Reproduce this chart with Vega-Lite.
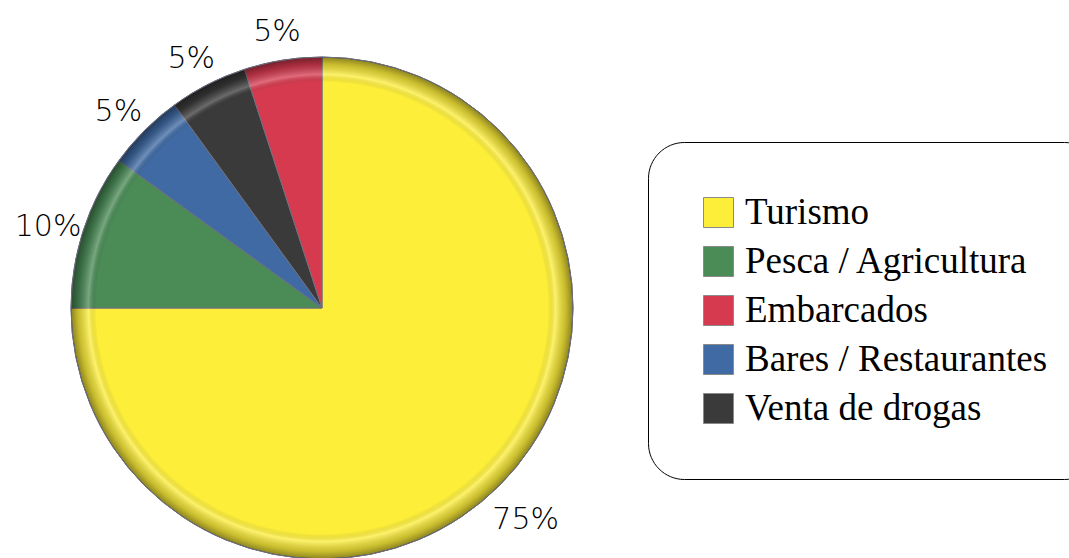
{
  "$schema": "https://vega.github.io/schema/vega-lite/v6.json",
  "width": 644,
  "height": 616,
  "autosize": {"type": "none"},
  "padding": {"left": 0, "top": 0, "right": 425, "bottom": 0},
  "background": "white",
  "config": {"view": {"stroke": null}},
  "layer": [
    {
      "data": {
        "values": [
          {"sector": "Turismo", "porcentaje": 75, "orden": 1, "etiqueta": "75%"},
          {"sector": "Pesca / Agricultura", "porcentaje": 10, "orden": 2, "etiqueta": "10%"},
          {"sector": "Bares / Restaurantes", "porcentaje": 5, "orden": 3, "etiqueta": "5%"},
          {"sector": "Venta de drogas", "porcentaje": 5, "orden": 4, "etiqueta": "5%"},
          {"sector": "Embarcados", "porcentaje": 5, "orden": 5, "etiqueta": "5%"}
        ]
      },
      "encoding": {
        "theta": {"field": "porcentaje", "type": "quantitative", "stack": true},
        "order": {"field": "orden", "type": "quantitative"}
      },
      "layer": [
        {
          "mark": {"type": "arc", "radius": 251, "stroke": "#6f6f80", "strokeWidth": 1},
          "encoding": {
            "color": {
              "field": "sector",
              "type": "nominal",
              "sort": ["Turismo", "Pesca / Agricultura", "Embarcados", "Bares / Restaurantes", "Venta de drogas"],
              "scale": {
                "domain": ["Turismo", "Pesca / Agricultura", "Embarcados", "Bares / Restaurantes", "Venta de drogas"],
                "range": ["#fdee3a", "#4a8b56", "#d63a4f", "#3f6aa3", "#3a3a3a"]
              },
              "legend": {
                "title": null,
                "orient": "none",
                "legendX": 648,
                "legendY": 142,
                "padding": 52,
                "strokeColor": "#000000",
                "fillColor": "#ffffff",
                "cornerRadius": 36,
                "symbolType": "square",
                "symbolSize": 900,
                "symbolStrokeColor": "#8a8a8a",
                "symbolStrokeWidth": 1,
                "symbolOpacity": 1,
                "labelFont": "Liberation Serif",
                "labelFontSize": 37,
                "labelColor": "#000000",
                "labelOffset": 8,
                "labelLimit": 450,
                "rowPadding": 11
              }
            }
          }
        },
        {
          "mark": {"type": "text", "radius": 288, "dy": 8, "font": "DejaVu Sans", "fontWeight": 200, "fontSize": 30, "color": "#000000", "align": "center", "baseline": "middle"},
          "encoding": {"text": {"field": "etiqueta", "type": "nominal"}}
        }
      ]
    },
    {
      "data": {"values": [{"capa": "borde"}]},
      "mark": {
        "type": "arc",
        "radius": 251,
        "theta": 0,
        "theta2": 6.2832,
        "fill": {
          "gradient": "radial",
          "x1": 0.5, "y1": 0.5, "r1": 0,
          "x2": 0.5, "y2": 0.5, "r2": 0.5,
          "stops": [
            {"offset": 0, "color": "rgba(0,0,0,0)"},
            {"offset": 0.9, "color": "rgba(0,0,0,0)"},
            {"offset": 0.93, "color": "rgba(255,255,255,0.25)"},
            {"offset": 0.97, "color": "rgba(0,0,0,0.2)"},
            {"offset": 1, "color": "rgba(0,0,0,0.45)"}
          ]
        },
        "stroke": "#6f6f80",
        "strokeWidth": 1
      },
      "encoding": {}
    }
  ]
}
